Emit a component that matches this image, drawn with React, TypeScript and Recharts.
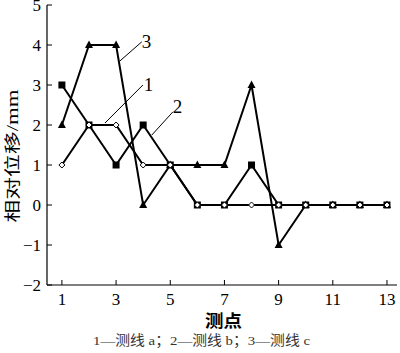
import { LineChart, Line, XAxis, YAxis, ReferenceLine, ReferenceDot, Label } from "recharts";

const points = [1, 2, 3, 4, 5, 6, 7, 8, 9, 10, 11, 12, 13];
const lineA = [1, 2, 2, 1, 1, 0, 0, 0, 0, 0, 0, 0, 0];
const lineB = [3, 2, 1, 2, 1, 0, 0, 1, 0, 0, 0, 0, 0];
const lineC = [2, 4, 4, 0, 1, 1, 1, 3, -1, 0, 0, 0, 0];
const xTicks = [1, 3, 5, 7, 9, 11, 13];
const yTicks = [-2, -1, 0, 1, 2, 3, 4, 5];

const data = points.map((p, i) => ({ p, a: lineA[i], b: lineB[i], c: lineC[i] }));

const SERIF = "'Liberation Serif', 'Noto Sans CJK SC', serif";
const TM = 6;

function XTick(props: any) {
  const { x, y, payload } = props;
  const ay = y - TM;
  return (
    <g>
      <line x1={x} x2={x} y1={ay} y2={ay - 5} stroke="#000" strokeWidth={1} />
      <text x={x} y={ay + 20} textAnchor="middle" fontFamily={SERIF} fontSize={17} fill="#000">
        {payload.value}
      </text>
    </g>
  );
}

function YTick(props: any) {
  const { x, y, payload } = props;
  const ax = x + TM;
  const v = payload.value < 0 ? "\u2212" + Math.abs(payload.value) : String(payload.value);
  return (
    <g>
      <line x1={ax} x2={ax + 5} y1={y} y2={y} stroke="#000" strokeWidth={1} />
      <text x={ax - 6} y={y + 6} textAnchor="end" fontFamily={SERIF} fontSize={17} fill="#000">
        {v}
      </text>
    </g>
  );
}

const Square = (p: any) => (
  <rect key={p.index} x={p.cx - 3.5} y={p.cy - 3.5} width={7} height={7} fill="#000" />
);
const Diamond = (p: any) => (
  <path
    key={p.index}
    d={`M${p.cx},${p.cy - 3} L${p.cx + 3},${p.cy} L${p.cx},${p.cy + 3} L${p.cx - 3},${p.cy} Z`}
    fill="#fff"
    stroke="#000"
    strokeWidth={1}
  />
);
const Triangle = (p: any) => (
  <path
    key={p.index}
    d={`M${p.cx},${p.cy - 4.5} L${p.cx + 4},${p.cy + 3} L${p.cx - 4},${p.cy + 3} Z`}
    fill="#000"
  />
);

const numLabel = (t: string) => ({
  value: t,
  position: "center" as const,
  fontFamily: SERIF,
  fontSize: 19,
  fill: "#000",
});

export default function App() {
  return (
    <div style={{ position: "absolute", left: 0, top: 0, width: 400, height: 353, background: "#fff" }}>
      <LineChart width={400} height={353} data={data} margin={{ top: 5, right: 3, left: 0, bottom: 0 }}>
        <XAxis
          dataKey="p"
          type="number"
          domain={[0.45, 13.37]}
          ticks={xTicks}
          height={68}
          tickSize={0}
          tickMargin={TM}
          tick={<XTick />}
          axisLine={{ stroke: "#000", strokeWidth: 1.2 }}
          tickLine={false}
          interval={0}
        >
          <Label
            content={() => (
              <g fontFamily={SERIF} fill="#000">
                <text
                  x={223.5}
                  y={327}
                  textAnchor="middle"
                  fontSize={17}
                  fontWeight="bold"
                  textLength={37}
                  lengthAdjust="spacingAndGlyphs"
                >
                  测点
                </text>
                <text
                  x={201.5}
                  y={345}
                  textAnchor="middle"
                  fontSize={13.5}
                  fill="#333"
                  textLength={217}
                  lengthAdjust="spacingAndGlyphs"
                >
                  1—测线 a；2—测线 b；3—测线 c
                </text>
              </g>
            )}
          />
        </XAxis>
        <XAxis
          xAxisId="top"
          orientation="top"
          dataKey="p"
          type="number"
          domain={[0.45, 13.37]}
          height={0}
          tick={false}
          tickLine={false}
          axisLine={{ stroke: "#000", strokeWidth: 1.2 }}
        />
        <YAxis
          type="number"
          domain={[-2, 5]}
          ticks={yTicks}
          width={47}
          tickSize={0}
          tickMargin={TM}
          tick={<YTick />}
          axisLine={{ stroke: "#000", strokeWidth: 1.2 }}
          tickLine={false}
          interval={0}
        >
          <Label
            content={() => (
              <text
                x={18}
                y={156}
                transform="rotate(-90 18 156)"
                textAnchor="middle"
                fontFamily={SERIF}
                fontSize={16}
                fill="#000"
                textLength={133}
                lengthAdjust="spacingAndGlyphs"
              >
                相对位移/mm
              </text>
            )}
          />
        </YAxis>
        <YAxis
          yAxisId="right"
          orientation="right"
          type="number"
          domain={[-2, 5]}
          width={0}
          tick={false}
          tickLine={false}
          axisLine={{ stroke: "#000", strokeWidth: 1.2 }}
        />
        <Line dataKey="c" stroke="#000" strokeWidth={2} dot={Triangle} activeDot={false} isAnimationActive={false} />
        <Line dataKey="b" stroke="#000" strokeWidth={2} dot={Square} activeDot={false} isAnimationActive={false} />
        <Line dataKey="a" stroke="#000" strokeWidth={2} dot={Diamond} activeDot={false} isAnimationActive={false} />
        <ReferenceLine segment={[{ x: 3.95, y: 4.08 }, { x: 3.14, y: 3.6 }]} stroke="#000" strokeWidth={1} />
        <ReferenceLine segment={[{ x: 3.99, y: 3.0 }, { x: 2.59, y: 2.05 }]} stroke="#000" strokeWidth={1} />
        <ReferenceLine segment={[{ x: 5.1, y: 2.33 }, { x: 4.32, y: 1.75 }]} stroke="#000" strokeWidth={1} />
        <ReferenceDot x={4.12} y={4.1} r={0} stroke="none" label={numLabel("3")} />
        <ReferenceDot x={4.2} y={3.03} r={0} stroke="none" label={numLabel("1")} />
        <ReferenceDot x={5.27} y={2.48} r={0} stroke="none" label={numLabel("2")} />
      </LineChart>
    </div>
  );
}
